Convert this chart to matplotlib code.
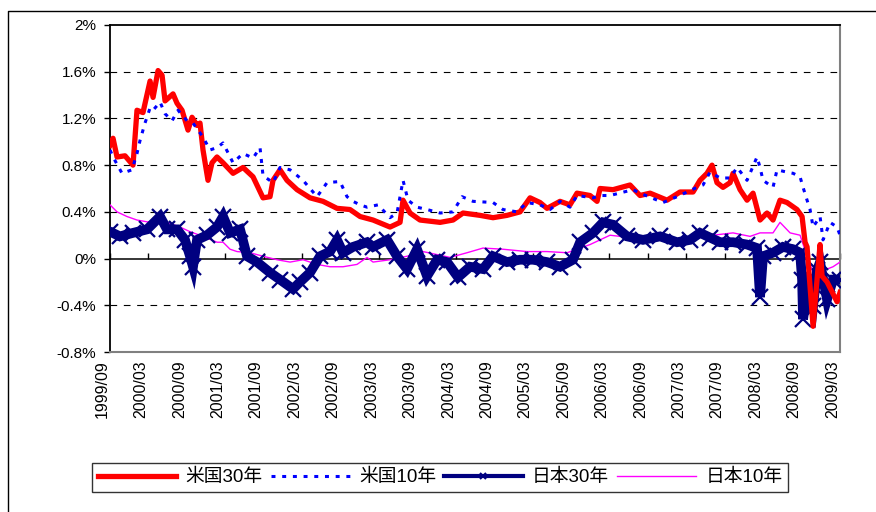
import matplotlib
matplotlib.use("Agg")
import matplotlib.pyplot as plt
import matplotlib.ticker as mticker
from matplotlib.lines import Line2D

plt.rcParams["font.family"] = ["Liberation Sans", "Noto Sans CJK JP", "DejaVu Sans"]

# Yield spreads in %, sampled at decimal-year dates
US30_T = [1999.667, 1999.706, 1999.758, 1999.862, 1999.966, 2000.018, 2000.096, 2000.188,
          2000.227, 2000.292, 2000.344, 2000.383, 2000.487, 2000.539, 2000.604, 2000.682,
          2000.734, 2000.799, 2000.838, 2000.877, 2000.942, 2000.994, 2001.059, 2001.138,
          2001.268, 2001.398, 2001.528, 2001.658, 2001.749, 2001.788, 2001.879, 2001.970,
          2002.101, 2002.270, 2002.439, 2002.621, 2002.790, 2002.921, 2003.090, 2003.311,
          2003.441, 2003.480, 2003.571, 2003.701, 2003.962, 2004.131, 2004.261, 2004.482,
          2004.651, 2004.833, 2005.003, 2005.133, 2005.263, 2005.354, 2005.523, 2005.653,
          2005.744, 2005.914, 2006.005, 2006.044, 2006.213, 2006.434, 2006.564, 2006.695,
          2006.916, 2007.085, 2007.254, 2007.345, 2007.436, 2007.501, 2007.566, 2007.644,
          2007.736, 2007.775, 2007.866, 2007.957, 2008.035, 2008.126, 2008.217, 2008.295,
          2008.386, 2008.477, 2008.607, 2008.673, 2008.712, 2008.738, 2008.777, 2008.816,
          2008.868, 2008.907, 2008.933, 2008.998, 2009.128, 2009.167]
US30_V = [0.97, 1.03, 0.87, 0.88, 0.80, 1.27, 1.25, 1.52, 1.38, 1.61, 1.57, 1.35, 1.41, 1.33,
          1.27, 1.10, 1.21, 1.14, 1.16, 0.93, 0.67, 0.82, 0.87, 0.82, 0.73, 0.78, 0.70, 0.52,
          0.53, 0.67, 0.76, 0.67, 0.59, 0.52, 0.49, 0.43, 0.42, 0.36, 0.33, 0.27, 0.31, 0.50,
          0.39, 0.33, 0.31, 0.33, 0.39, 0.37, 0.35, 0.37, 0.40, 0.52, 0.48, 0.43, 0.49, 0.46,
          0.56, 0.54, 0.49, 0.60, 0.59, 0.63, 0.54, 0.56, 0.50, 0.57, 0.57, 0.67, 0.73, 0.80,
          0.65, 0.61, 0.65, 0.73, 0.59, 0.50, 0.56, 0.33, 0.39, 0.33, 0.50, 0.48, 0.42, 0.36,
          0.14, 0.10, -0.24, -0.58, -0.18, 0.12, -0.15, -0.20, -0.37, -0.29]

US10_T = [1999.667, 1999.706, 1999.823, 1999.953, 2000.018, 2000.057, 2000.122, 2000.188,
          2000.227, 2000.318, 2000.383, 2000.474, 2000.552, 2000.669, 2000.747, 2000.877,
          2000.968, 2001.059, 2001.138, 2001.268, 2001.398, 2001.528, 2001.619, 2001.658,
          2001.788, 2001.879, 2002.010, 2002.179, 2002.361, 2002.491, 2002.660, 2002.751,
          2002.829, 2002.921, 2003.012, 2003.155, 2003.311, 2003.402, 2003.480, 2003.545,
          2003.662, 2003.792, 2003.962, 2004.131, 2004.248, 2004.391, 2004.651, 2004.781,
          2004.964, 2005.094, 2005.263, 2005.393, 2005.523, 2005.653, 2005.744, 2005.953,
          2006.044, 2006.174, 2006.473, 2006.564, 2006.864, 2007.046, 2007.306, 2007.384,
          2007.475, 2007.606, 2007.736, 2007.827, 2007.957, 2008.087, 2008.126, 2008.165,
          2008.295, 2008.347, 2008.477, 2008.556, 2008.647, 2008.686, 2008.738, 2008.777,
          2008.816, 2008.907, 2008.946, 2009.037, 2009.128, 2009.167]
US10_V = [0.93, 0.87, 0.73, 0.76, 0.90, 1.01, 1.16, 1.29, 1.27, 1.34, 1.24, 1.18, 1.27, 1.18,
          1.16, 1.04, 0.93, 0.95, 0.99, 0.82, 0.90, 0.86, 0.95, 0.71, 0.65, 0.78, 0.76, 0.67,
          0.53, 0.65, 0.66, 0.53, 0.49, 0.46, 0.44, 0.46, 0.35, 0.39, 0.67, 0.50, 0.44, 0.42,
          0.39, 0.40, 0.53, 0.49, 0.48, 0.42, 0.40, 0.48, 0.46, 0.42, 0.49, 0.44, 0.54, 0.52,
          0.54, 0.54, 0.59, 0.56, 0.48, 0.53, 0.61, 0.63, 0.74, 0.69, 0.69, 0.78, 0.67, 0.87,
          0.78, 0.67, 0.61, 0.76, 0.74, 0.73, 0.70, 0.61, 0.50, 0.42, 0.27, 0.36, 0.16, 0.31,
          0.27, 0.20]

JP30_T = [1999.667, 1999.797, 1999.966, 2000.149, 2000.318, 2000.409, 2000.539, 2000.643,
          2000.708, 2000.747, 2000.799, 2000.929, 2001.059, 2001.138, 2001.229, 2001.359,
          2001.450, 2001.580, 2001.749, 2001.879, 2002.049, 2002.140, 2002.270, 2002.400,
          2002.530, 2002.621, 2002.699, 2002.829, 2003.012, 2003.090, 2003.272, 2003.402,
          2003.532, 2003.662, 2003.792, 2003.923, 2004.053, 2004.196, 2004.352, 2004.521,
          2004.651, 2004.833, 2005.003, 2005.172, 2005.354, 2005.523, 2005.692, 2005.784,
          2005.953, 2006.083, 2006.213, 2006.395, 2006.603, 2006.825, 2007.046, 2007.215,
          2007.345, 2007.475, 2007.606, 2007.775, 2007.957, 2008.087, 2008.126, 2008.165,
          2008.295, 2008.425, 2008.556, 2008.647, 2008.673, 2008.686, 2008.738, 2008.816,
          2008.868, 2008.907, 2008.998, 2009.076, 2009.167]
JP30_V = [0.23, 0.19, 0.22, 0.25, 0.36, 0.25, 0.25, 0.16, 0.02, -0.07, 0.16, 0.20, 0.27, 0.36,
          0.22, 0.25, 0.02, -0.03, -0.12, -0.18, -0.26, -0.20, -0.12, 0.02, 0.06, 0.16, 0.05,
          0.10, 0.14, 0.10, 0.16, 0.02, -0.09, 0.08, -0.15, -0.01, -0.03, -0.16, -0.07, -0.09,
          0.02, -0.03, -0.01, -0.01, -0.03, -0.07, -0.01, 0.14, 0.22, 0.31, 0.29, 0.19, 0.16,
          0.19, 0.14, 0.16, 0.22, 0.18, 0.14, 0.14, 0.12, 0.09, -0.33, 0.02, 0.05, 0.10, 0.08,
          0.05, -0.18, -0.52, -0.26, -0.41, -0.10, -0.03, -0.35, -0.18, -0.18]

JP10_T = [1999.667, 1999.758, 1999.888, 2000.018, 2000.188, 2000.409, 2000.578, 2000.708,
          2000.877, 2001.059, 2001.138, 2001.229, 2001.320, 2001.489, 2001.658, 2001.840,
          2002.010, 2002.179, 2002.361, 2002.530, 2002.699, 2002.881, 2003.012, 2003.090,
          2003.311, 2003.532, 2003.740, 2004.092, 2004.313, 2004.521, 2004.781, 2005.094,
          2005.354, 2005.614, 2005.914, 2006.174, 2006.564, 2007.085, 2007.514, 2007.775,
          2007.996, 2008.126, 2008.295, 2008.386, 2008.517, 2008.647, 2008.738, 2008.816,
          2008.907, 2008.998, 2009.076, 2009.167]
JP10_V = [0.46, 0.40, 0.36, 0.33, 0.31, 0.31, 0.27, 0.23, 0.19, 0.14, 0.14, 0.08, 0.06, 0.05,
          0.02, -0.01, -0.03, -0.01, -0.05, -0.07, -0.07, -0.05, 0.01, -0.03, -0.01, 0.02,
          0.06, 0.01, 0.05, 0.09, 0.08, 0.06, 0.06, 0.05, 0.12, 0.20, 0.17, 0.15, 0.20, 0.22,
          0.19, 0.22, 0.22, 0.31, 0.22, 0.20, 0.02, -0.12, -0.03, -0.09, -0.07, -0.03]

TICK_LABELS = ["1999/09", "2000/03", "2000/09", "2001/03", "2001/09", "2002/03", "2002/09",
               "2003/03", "2003/09", "2004/03", "2004/09", "2005/03", "2005/09", "2006/03",
               "2006/09", "2007/03", "2007/09", "2008/03", "2008/09", "2009/03"]
Y_TICKS = [-0.8, -0.4, 0.0, 0.4, 0.8, 1.2, 1.6, 2.0]

RED, BLUE, NAVY, MAGENTA = "#FF0000", "#0000FF", "#000080", "#FF00FF"
BLUE_DOTS = (0, (1.3, 2.2))


def label_to_year(s):
    y, m = s.split("/")
    return int(y) + (int(m) - 1) / 12


fig = plt.figure(figsize=(8.76, 5.12), dpi=100)
ax = fig.add_axes([110 / 876, 1 - 352 / 512, 730 / 876, 327 / 512])

ax.plot(JP10_T, JP10_V, color=MAGENTA, lw=1.0, zorder=3)
ax.plot(JP30_T, JP30_V, color=NAVY, lw=7, marker="x", ms=11, mew=1.6,
        solid_joinstyle="miter", zorder=4)
ax.plot(US30_T, US30_V, color=RED, lw=3.8, zorder=5)
ax.plot(US10_T, US10_V, color=BLUE, lw=2.2, linestyle=BLUE_DOTS, zorder=6)

xt = [label_to_year(s) for s in TICK_LABELS]
ax.set_xlim(xt[0], xt[-1])
ax.set_ylim(Y_TICKS[0], Y_TICKS[-1])

# dashed gridlines, solid zero line
for v in Y_TICKS[1:-1]:
    if v == 0:
        ax.axhline(v, color="black", lw=1.1, zorder=2)
    else:
        ax.axhline(v, color="black", lw=0.8, linestyle=(0, (6, 6)), zorder=1)

ax.set_yticks(Y_TICKS)
ax.yaxis.set_major_formatter(mticker.FuncFormatter(lambda v, _: f"{v:g}%"))
ax.tick_params(axis="y", direction="out", length=4, width=1, labelsize=11, pad=6)

ax.set_xticks(xt)
ax.set_xticklabels(TICK_LABELS, rotation=90, ha="right", fontsize=11.5)
ax.tick_params(axis="x", length=0, pad=6)

# category axis crossing at 0 with small upward ticks
zero_pos = (0 - Y_TICKS[0]) / (Y_TICKS[-1] - Y_TICKS[0])
sec = ax.secondary_xaxis(zero_pos)
sec.set_xticks(xt)
sec.tick_params(axis="x", direction="in", length=4, width=1, labelbottom=False,
                labeltop=False, color="black")
sec.spines["bottom"].set_visible(False)
sec.spines["top"].set_visible(False)

for side in ("left", "top"):
    ax.spines[side].set_color("black")
    ax.spines[side].set_linewidth(1.3)
for side in ("right", "bottom"):
    ax.spines[side].set_color("#808080")
    ax.spines[side].set_linewidth(1.5)

legend_handles = [
    Line2D([], [], color=RED, lw=3.8),
    Line2D([], [], color=BLUE, lw=2.2, linestyle=BLUE_DOTS),
    Line2D([], [], color=NAVY, lw=3, marker="x", ms=5, mew=1.5),
    Line2D([], [], color=MAGENTA, lw=1.0),
]
legend_labels = ["米国30年", "米国10年", "日本30年", "日本10年"]
leg = fig.legend(legend_handles, legend_labels,
                 loc="center", bbox_to_anchor=(92 / 876, 19 / 512, 696 / 876, 31 / 512),
                 mode="expand", ncol=4, fontsize=13.5, handlelength=4.2,
                 handletextpad=0.5, columnspacing=0.6, numpoints=1,
                 frameon=True, fancybox=False, borderpad=0.3, borderaxespad=0)
leg.get_frame().set_edgecolor("black")
leg.get_frame().set_linewidth(1.0)

# chart area border
fig.add_artist(Line2D([8 / 876, 8 / 876, 1.0], [0.0, 1 - 11 / 512, 1 - 11 / 512],
                      transform=fig.transFigure, color="black", lw=1.0))

fig.savefig("out.png", dpi=100)
